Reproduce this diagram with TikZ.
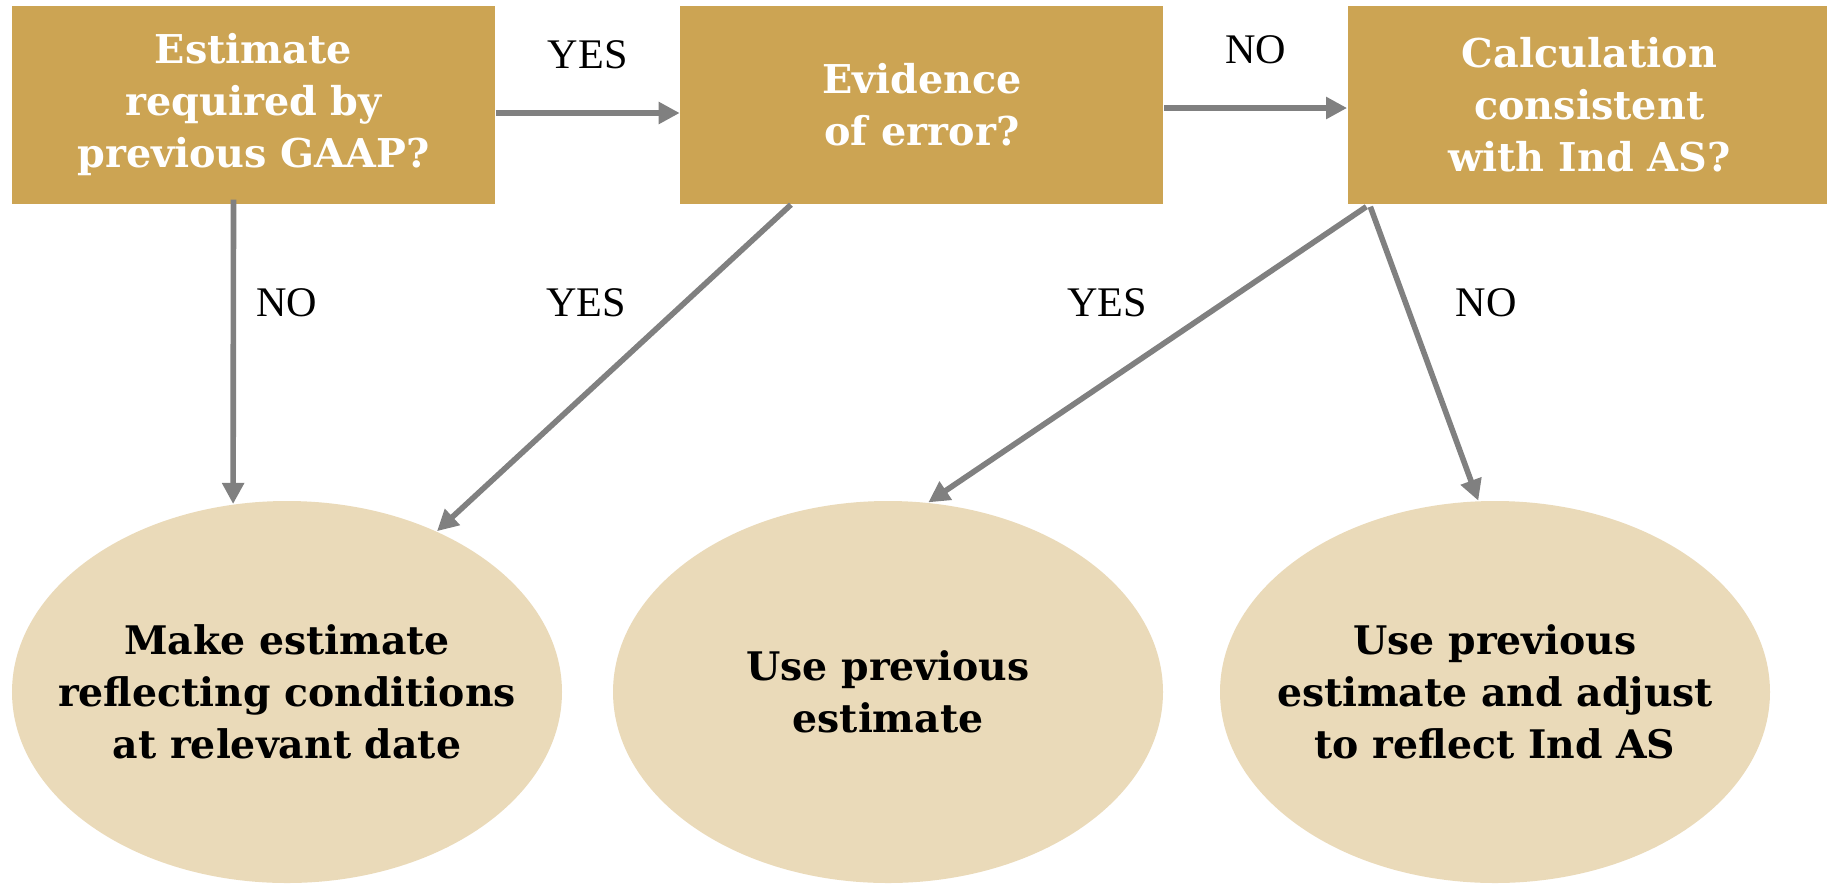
\documentclass[tikz,border=0pt]{standalone}
\usepackage{fontspec}
\setmainfont{Liberation Serif}
\newfontfamily\boxfont{DejaVu Serif}
\usepackage{tikz}
\usetikzlibrary{positioning, arrows.meta, shapes.geometric}
\usepackage{xcolor}
\definecolor{gold}{HTML}{CCA453}
\definecolor{sand}{HTML}{EADAB9}
\definecolor{arrowgray}{HTML}{808080}

\begin{document}
\begin{tikzpicture}[node distance=1.84cm,
    question/.style={rectangle, fill=gold, text=white, minimum width=4.83cm, minimum height=1.98cm, align=center, font=\boxfont\bfseries\fontsize{11.3}{14.8}\selectfont},
    outcome/.style={ellipse, fill=sand, text=black, minimum width=5.5cm, minimum height=3.82cm, inner xsep=-1.3cm, inner ysep=0pt, align=center, font=\boxfont\bfseries\fontsize{11.2}{14.8}\selectfont},
    answer/.style={font=\fontsize{12}{14}\selectfont},
    flow/.style={draw=arrowgray, line width=1.6pt, -{Triangle[width=6pt,length=6pt]}}]
    \useasboundingbox (0,0) rectangle (18.27,-8.83);
    \node[question] (q1) at (2.535,-1.05) {Estimate\\required by\\previous GAAP?};
    \node[question] (q2) [right=of q1] {Evidence\\of error?};
    \node[question] (q3) [right=1.83cm of q2] {Calculation\\consistent\\with Ind AS?};
    \node[outcome] (r1) at (2.87,-6.92) {Make estimate\\reflecting conditions\\at relevant date};
    \node[outcome] (r2) at (8.88,-6.92) {Use previous\\estimate};
    \node[outcome] (r3) at (14.95,-6.92) {Use previous\\estimate and adjust\\to reflect Ind AS};
    \path ([yshift=-0.08cm]q1.east) edge[flow] node[answer, above=0.3cm] (yes1) {YES} ([yshift=-0.08cm]q2.west);
    \path ([yshift=-0.03cm]q2.east) edge[flow] node[answer, above=0.3cm] (no1) {NO} ([yshift=-0.03cm]q3.west);
    \path ([xshift=-0.2cm,yshift=0.05cm]q1.south) edge[flow] (r1.106);
    \path ([xshift=-1.31cm]q2.south) edge[flow] (r1.47);
    \path ([xshift=-2.23cm,yshift=-0.02cm]q3.south) edge[flow] (r2.78);
    \path ([xshift=-2.19cm,yshift=-0.02cm]q3.south) edge[flow] (r3.95);
    \node[answer] (no2) at (2.87,-3.03) {NO};
    \node[answer] (yes2) at (5.86,-3.03) {YES};
    \node[answer] (yes3) at (11.07,-3.03) {YES};
    \node[answer] (no3) at (14.86,-3.03) {NO};
\end{tikzpicture}
\end{document}
